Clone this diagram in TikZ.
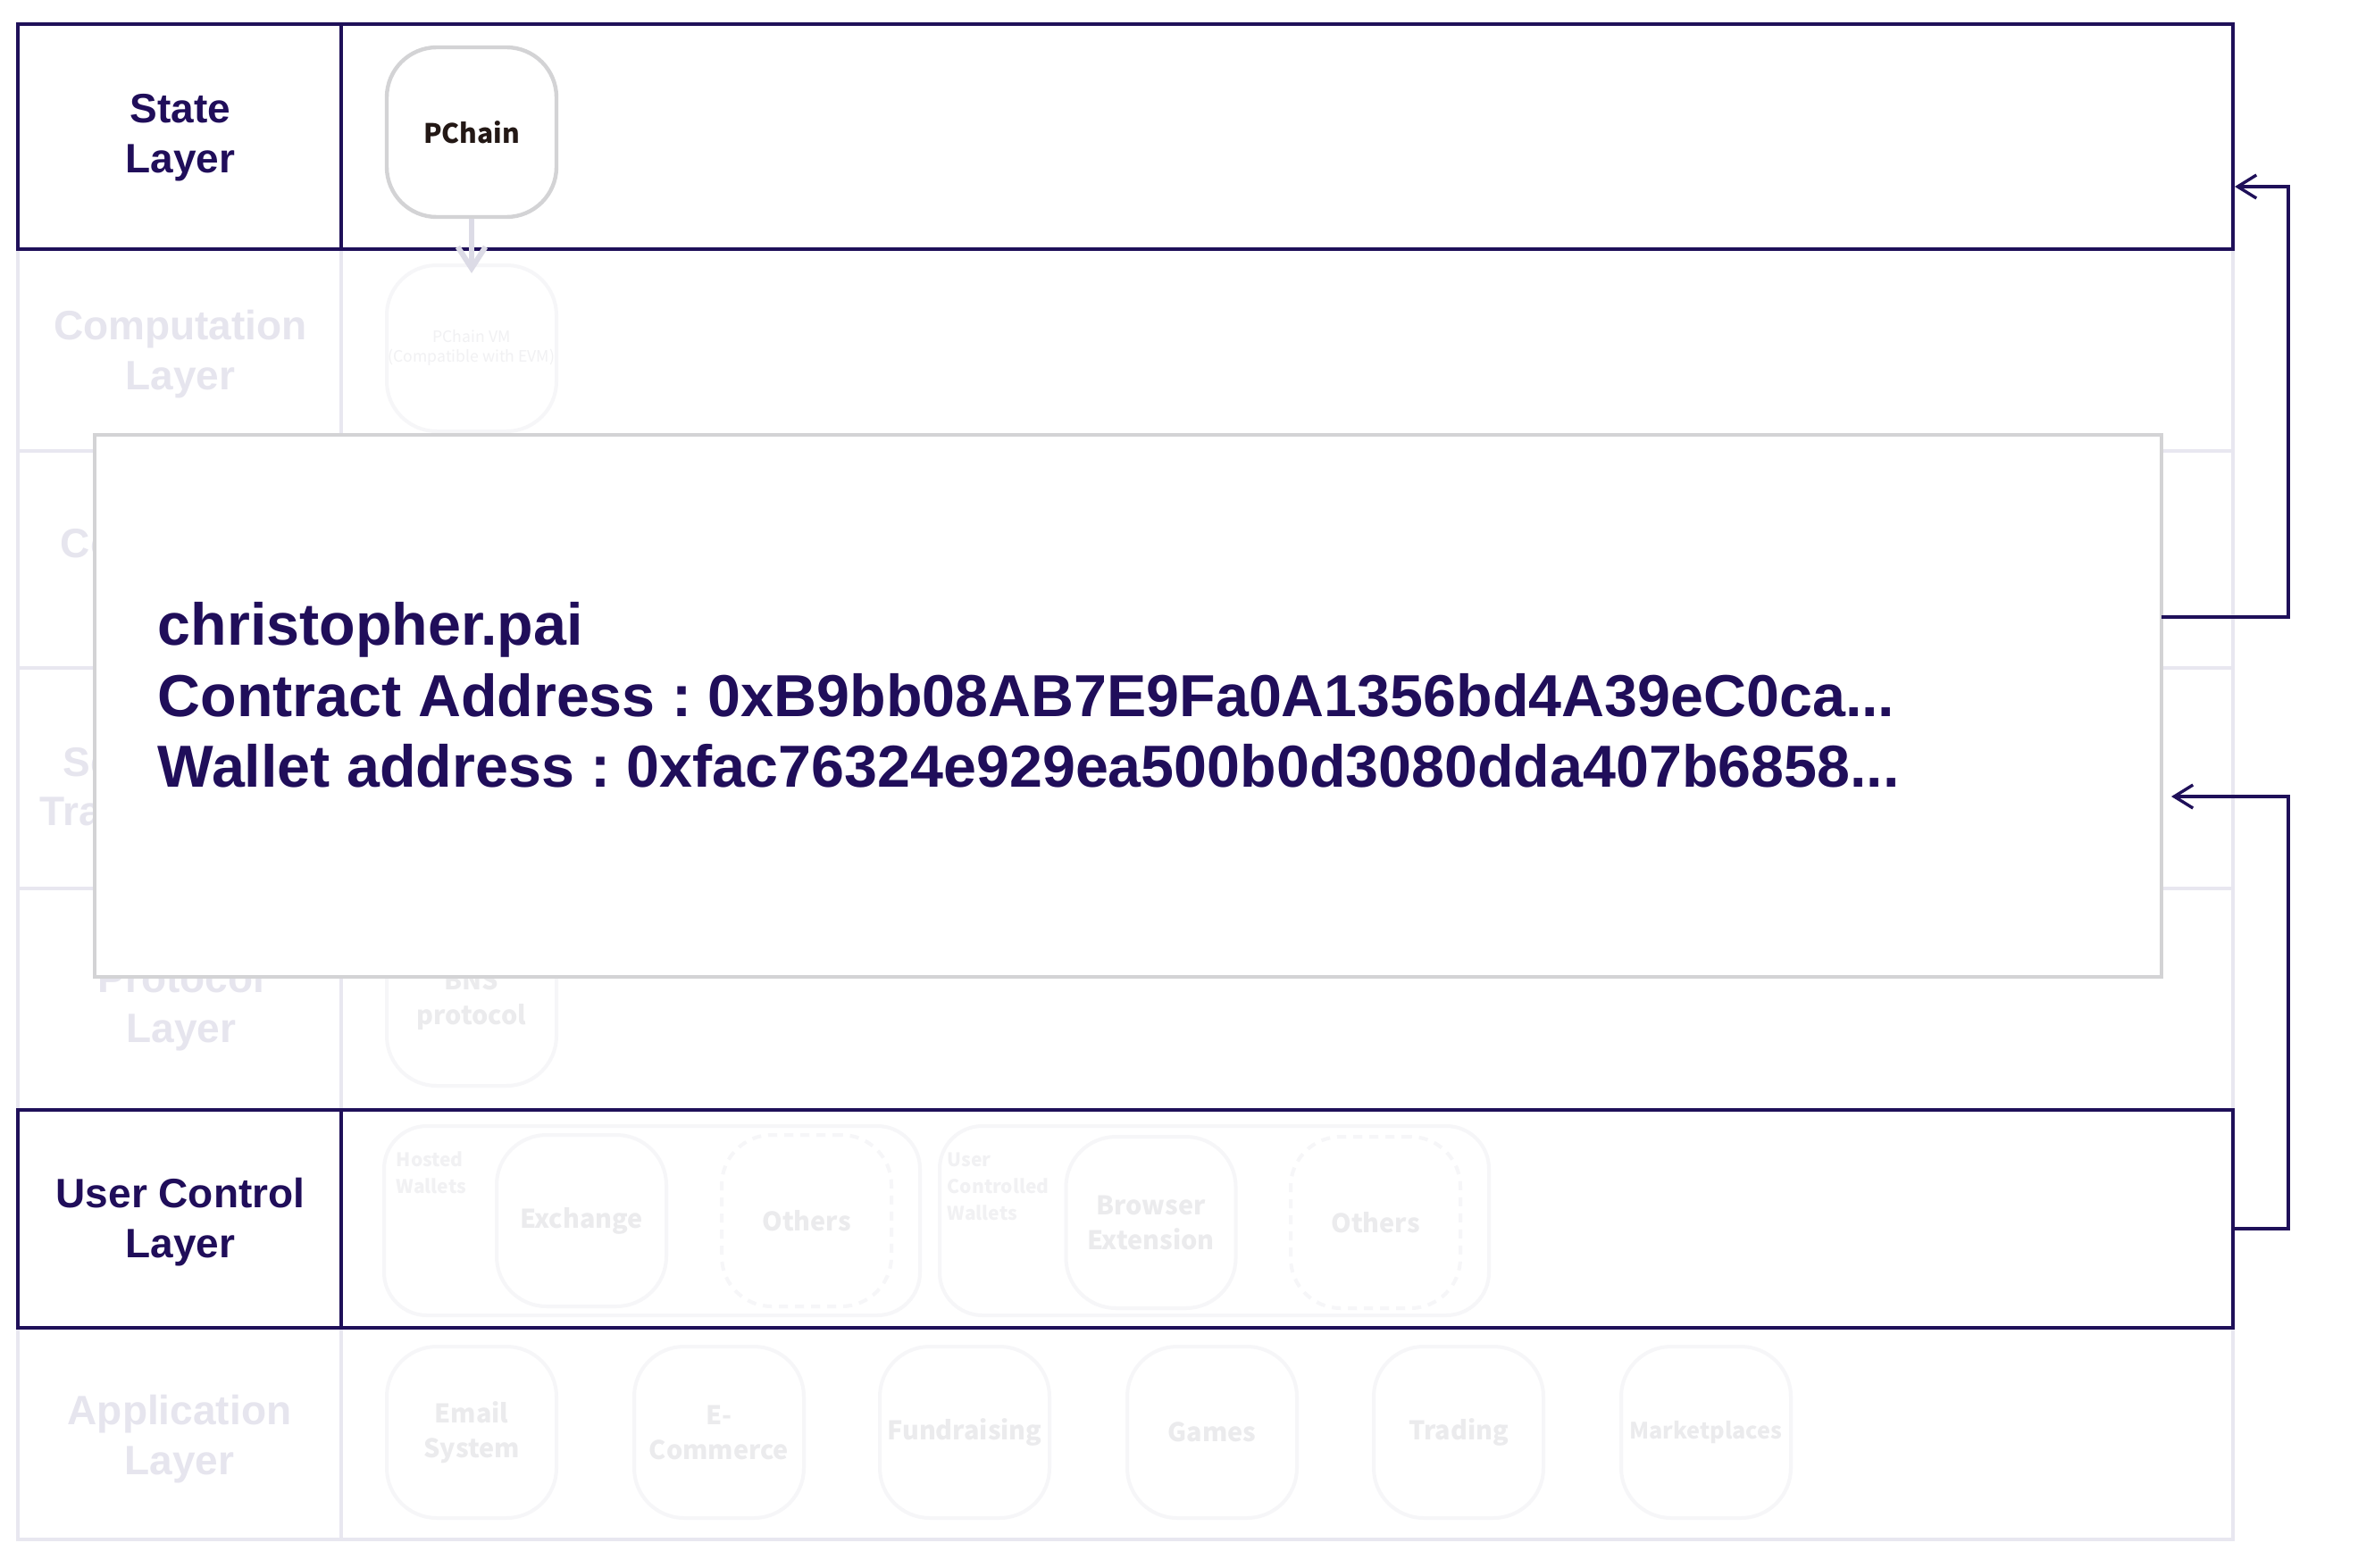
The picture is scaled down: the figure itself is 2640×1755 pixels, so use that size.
\documentclass[tikz,border=0pt]{standalone}
\usepackage{fontspec}
\setmainfont{Liberation Sans}
\newfontfamily\cjkfont{Noto Sans CJK JP}
\usetikzlibrary{arrows.meta}
\definecolor{navy}{HTML}{1F1059}
\definecolor{navytext}{HTML}{200E5A}
\definecolor{faintline}{HTML}{E8E7F0}
\definecolor{faintlabel}{HTML}{E6E5EE}
\definecolor{faintbox}{HTML}{F6F6F8}
\definecolor{fainttext}{HTML}{EBEBED}
\definecolor{palest}{HTML}{F1F1F3}
\definecolor{boxgrey}{HTML}{D3D3D5}
\definecolor{pchaintext}{HTML}{231815}
\definecolor{lightarrowc}{HTML}{DCDBE6}
\frenchspacing
\begin{document}
\begin{tikzpicture}[x=0.25pt,y=-0.25pt,
  lbl/.style={font=\fontsize{11.5pt}{14pt}\selectfont\bfseries, align=center, text=navytext, inner sep=0pt},
  faintlbl/.style={lbl, text=faintlabel},
  rowbox/.style={draw=navy, line width=1pt, inner sep=0pt},
  frameline/.style={draw=faintline, line width=1pt},
  pbox/.style={draw=boxgrey, line width=1.1pt, rounded corners=14pt, minimum width=47.5pt, minimum height=47.5pt, inner sep=0pt, align=center, font=\cjkfont\bfseries\fontsize{7.5pt}{9pt}\selectfont, text=pchaintext},
  fbox/.style={draw=faintbox, line width=1pt, rounded corners=14pt, minimum width=47.5pt, minimum height=48pt, inner sep=0pt, align=center, font=\cjkfont\bfseries\fontsize{7.2pt}{9.75pt}\selectfont, text=fainttext},
  dbox/.style={fbox, dash pattern=on 2.5pt off 2pt},
  group/.style={draw=faintbox, line width=1pt, rounded corners=12pt, inner sep=0pt},
  tinytext/.style={font=\cjkfont\bfseries\fontsize{5.25pt}{7.5pt}\selectfont, text=palest, align=left, inner sep=0pt, anchor=west},
  popupbox/.style={draw=boxgrey, line width=1pt, fill=white, inner sep=0pt},
  info/.style={font=\fontsize{16.6pt}{19.75pt}\selectfont\bfseries, text=navytext, inner sep=0pt, anchor=base west},
  conn/.style={draw=navy, line width=0.85pt, -{Straight Barb[length=5.25pt,width=6.5pt]}},
  lightarr/.style={draw=lightarrowc, line width=1.5pt, -{Straight Barb[length=6pt,width=7.75pt]}}
]
\useasboundingbox (0,0) rectangle (2640,1755);
\fill[white] (0,0) rectangle (2640,1755);

% faint frame
\draw[frameline] (20,279) -- (20,1724) -- (2500,1724) -- (2500,279);
\draw[frameline] (382,279) -- (382,1724);
\draw[frameline] (20,505) -- (2500,505);
\draw[frameline] (20,748) -- (2500,748);
\draw[frameline] (20,995) -- (2500,995);

% faint labels (rows 3 and 4 are mostly hidden behind the popup)
\node[faintlbl] (lcomp) at (202,397) {Computation\\Layer};
\node[faintlbl, anchor=west] (lcons) at (67,609) {Co};
\node[faintlbl, anchor=west] (lsec) at (70,854) {Se};
\node[faintlbl, anchor=west] (ltra) at (44,909) {Tra};
\node[faintlbl] (lprot) at (203,1128) {Protocol\\Layer};
\node[faintlbl] (lapp) at (201,1612) {Application\\Layer};

% computation / protocol boxes
\node[fbox, minimum height=46.5pt, font=\cjkfont\fontsize{4.4pt}{5.5pt}\selectfont, text=palest] (vm) at (528,390) {PChain VM\\(Compatible with EVM)};
\node[fbox] (bns) at (528,1120) {BNS\\protocol};

% user control contents
\node[group, minimum width=150pt, minimum height=53pt] (g1) at (730,1367) {};
\node[group, minimum width=153.75pt, minimum height=53pt] (g2) at (1359.5,1367) {};
\node[tinytext] (thosted) at (443,1313) {Hosted\\Wallets};
\node[tinytext] (tuser) at (1060,1329) {User\\Controlled\\Wallets};
\node[fbox] (exch) at (651,1367) {Exchange};
\node[dbox] (oth1) at (903,1367) {Others};
\node[fbox] (brow) at (1288.5,1369) {Browser\\Extension};
\node[dbox] (oth2) at (1540,1369) {Others};

% application boxes
\node[fbox] (email) at (528,1604) {Email\\System};
\node[fbox] (ecom) at (805,1604) {E-\\Commerce};
\node[fbox] (fund) at (1080,1604) {Fundraising};
\node[fbox] (games) at (1357,1604) {Games};
\node[fbox] (trad) at (1633,1604) {Trading};
\node[fbox, font=\cjkfont\bfseries\fontsize{6.3pt}{8pt}\selectfont] (mark) at (1910,1604) {Marketplaces};

% state row
\node[rowbox, minimum width=620pt, minimum height=63pt] (staterow) at (1260,153) {};
\draw[navy, line width=1pt] (382,27) -- (382,279);
\node[lbl] (lstate) at (202,154) {State\\Layer};
\node[pbox] (pchain) at (528,148) {PChain};
\draw[lightarr, shorten >=-2.75pt] (pchain.south) -- (vm.north);

% user control row
\node[rowbox, minimum width=620pt, minimum height=61pt] (userrow) at (1260,1365) {};
\draw[navy, line width=1pt] (382,1243) -- (382,1487);
\node[lbl] (luser) at (202,1369) {User Control\\Layer};

% popup
\node[popupbox, minimum width=578.5pt, minimum height=151.75pt] (popup) at (1263,790.5) {};
\node[info] (info1) at (176,722) {christopher.pai};
\node[info] (info2) at (176,802) {Contract Address : 0xB9bb08AB7E9Fa0A1356bd4A39eC0ca...};
\node[info] (info3) at (176,881) {Wallet address : 0xfac76324e929ea500b0d3080dda407b6858...};

% connectors
\coordinate (c1a) at (2420,691);
\coordinate (b1) at (2562,209);
\draw[conn] (c1a) -| (b1) -- (staterow.east |- b1);
\coordinate (c2a) at (2500,1376);
\coordinate (b2) at (2562,892);
\coordinate (t2) at (2431,892);
\draw[conn] (c2a) -| (b2) -- (t2);
\end{tikzpicture}
\end{document}
